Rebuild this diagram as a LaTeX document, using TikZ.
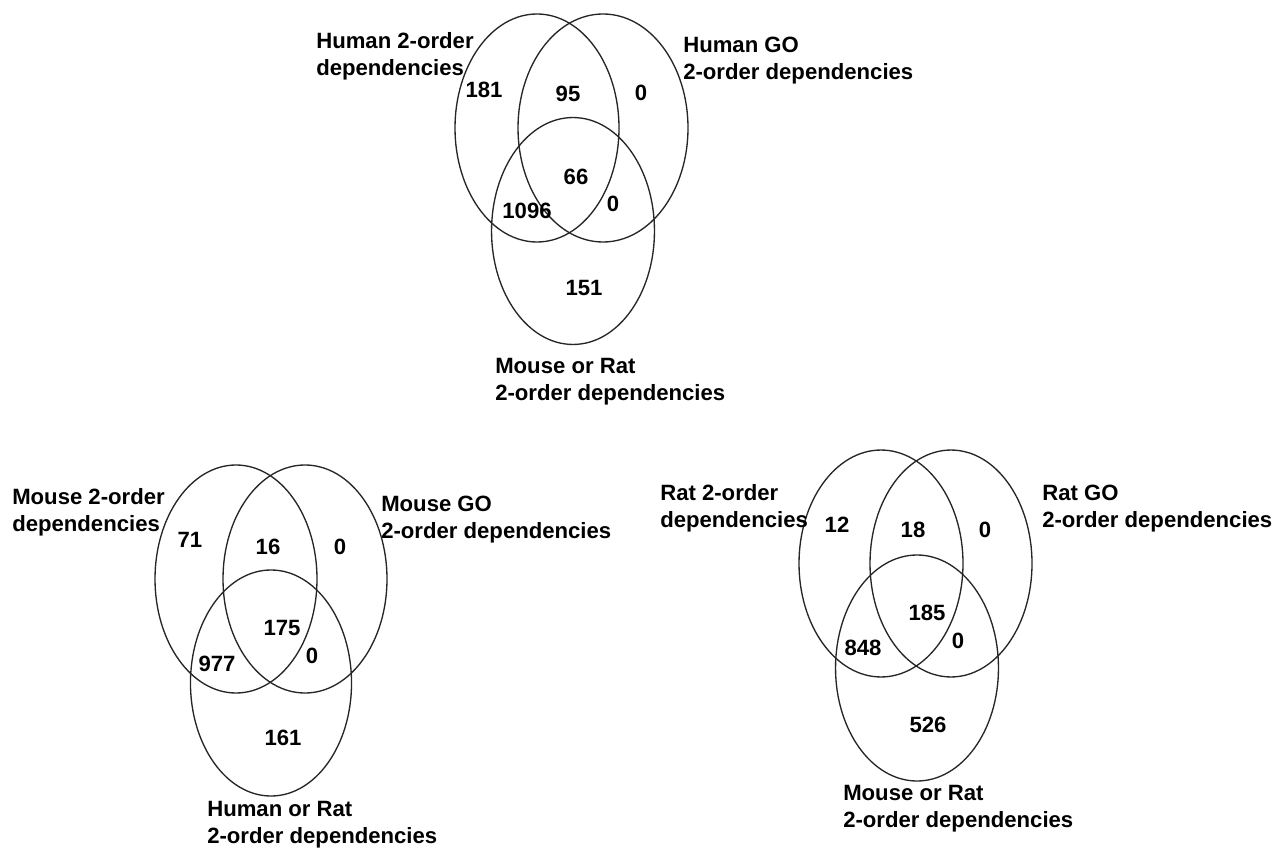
\documentclass[tikz,border=0pt]{standalone}
\usepackage{fontspec}
\setmainfont{Liberation Sans}
\begin{document}
\begin{tikzpicture}[x=0.75pt,y=-0.75pt,
  venn/.style={draw=black!85,line width=1pt},
  num/.style={inner sep=0pt,font=\bfseries\fontsize{16.6}{20}\selectfont},
  lbl/.style={inner sep=0pt,anchor=west,align=left,font=\bfseries\fontsize{16.6}{20.25}\selectfont}]
\useasboundingbox[fill=white] (0,0) rectangle (1273,848);
% ---- top diagram
\draw[venn] (537,128) ellipse [x radius=61.5pt, y radius=85.5pt];
\draw[venn] (603,128) ellipse [x radius=63.75pt, y radius=85.5pt];
\draw[venn] (573,231) ellipse [x radius=61.1pt, y radius=85.1pt];
\node[lbl] (t1) at (316,56.5) {Human 2-order\\dependencies};
\node[lbl] (t2) at (683,60.5) {Human GO\\2-order dependencies};
\node[lbl] (t3) at (495,381.5) {Mouse or Rat\\2-order dependencies};
\node[num] (ta) at (484,90) {181};
\node[num] (tb) at (568,94) {95};
\node[num] (tc) at (641,93) {0};
\node[num] (td) at (576,177) {66};
\node[num] (te) at (527,211) {1096};
\node[num] (tf) at (613,204) {0};
\node[num] (tg) at (584,288) {151};
% ---- bottom left diagram
\draw[venn] (236,579) ellipse [x radius=60.75pt, y radius=85.5pt];
\draw[venn] (305,579) ellipse [x radius=61.5pt, y radius=85.5pt];
\draw[venn] (271,683) ellipse [x radius=60.4pt, y radius=84.75pt];
\node[lbl] (m1) at (12,512.5) {Mouse 2-order\\dependencies};
\node[lbl] (m2) at (381,519.5) {Mouse GO\\2-order dependencies};
\node[lbl] (m3) at (207,825) {Human or Rat\\2-order dependencies};
\node[num] (ma) at (190,540) {71};
\node[num] (mb) at (268,547) {16};
\node[num] (mc) at (340,547) {0};
\node[num] (md) at (282,628) {175};
\node[num] (me) at (217,664) {977};
\node[num] (mf) at (312,656) {0};
\node[num] (mg) at (283,738) {161};
% ---- bottom right diagram
\draw[venn] (881,563.5) ellipse [x radius=61.5pt, y radius=85.1pt];
\draw[venn] (951,563.5) ellipse [x radius=60.75pt, y radius=85.1pt];
\draw[venn] (917,668) ellipse [x radius=61.1pt, y radius=84.75pt];
\node[lbl] (r1) at (660,508.5) {Rat 2-order\\dependencies};
\node[lbl] (r2) at (1042,508.5) {Rat GO\\2-order dependencies};
\node[lbl] (r3) at (843,808.5) {Mouse or Rat\\2-order dependencies};
\node[num] (ra) at (837,525) {12};
\node[num] (rb) at (913,530) {18};
\node[num] (rc) at (985,530) {0};
\node[num] (rd) at (927,613) {185};
\node[num] (re) at (863,648) {848};
\node[num] (rf) at (958,641) {0};
\node[num] (rg) at (928,725) {526};
\end{tikzpicture}
\end{document}
